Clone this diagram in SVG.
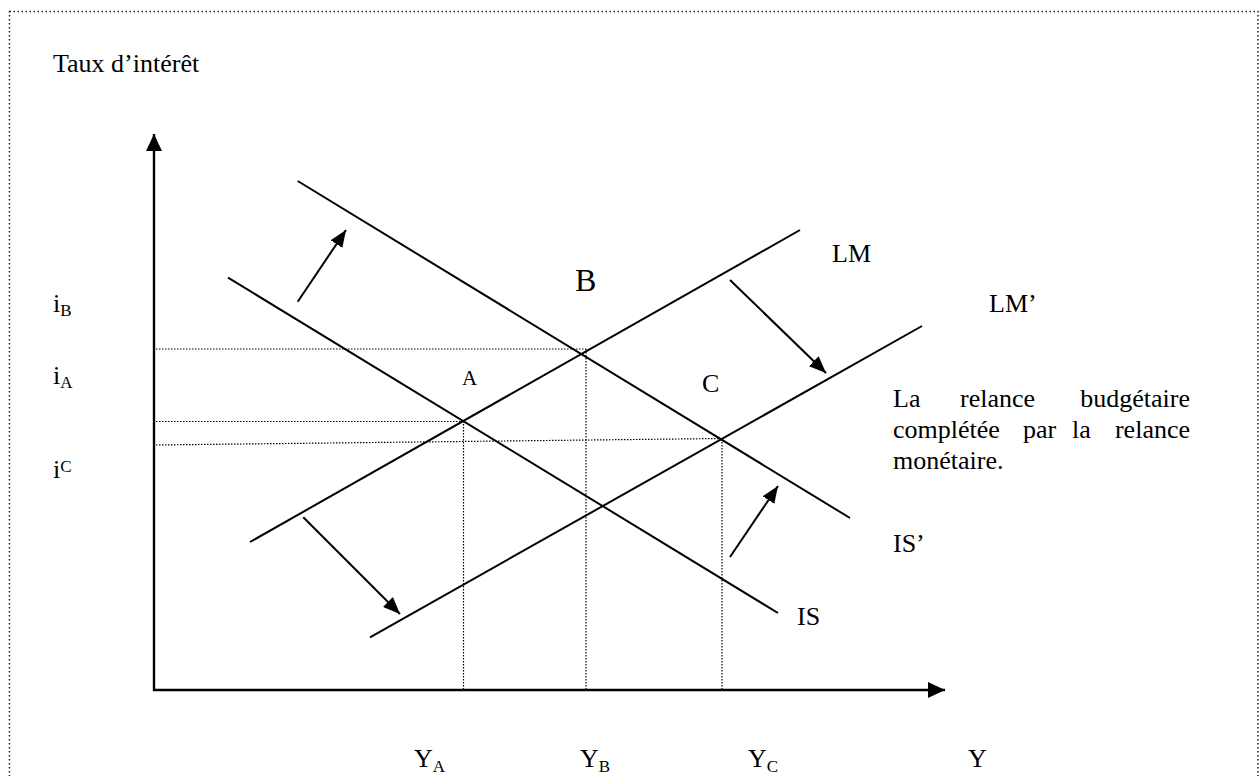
<svg xmlns="http://www.w3.org/2000/svg" width="1259" height="776" viewBox="0 0 1259 776">
<style>
text{font-family:"Liberation Serif","Times New Roman",serif;font-size:26px;fill:#000}
.sub{font-size:17px}
.curve{stroke:#000;stroke-width:2;fill:none}
.axis{stroke:#000;stroke-width:2.4;fill:none}
.dot{stroke:#000;stroke-width:1.2;stroke-dasharray:1.5 1.5;fill:none}
.shift{stroke:#000;stroke-width:2;fill:none}
</style>
<defs>
<marker id="axhead" markerUnits="userSpaceOnUse" markerWidth="18" markerHeight="16" refX="17" refY="8" orient="auto">
<path d="M0,0 L17,8 L0,16 z" fill="#000"/>
</marker>
<marker id="head" markerUnits="userSpaceOnUse" markerWidth="18" markerHeight="14" refX="17" refY="7" orient="auto">
<path d="M0,0 L17,7 L0,14 z" fill="#000"/>
</marker>
</defs>
<rect x="9.5" y="11.5" width="1248.5" height="800" fill="none" stroke="#222" stroke-width="1.5" stroke-dasharray="1.5 2.5"/>
<g id="axes">
<line class="axis" x1="154" y1="691" x2="154" y2="134" marker-end="url(#axhead)"/>
<line class="axis" x1="153" y1="690" x2="945" y2="690" marker-end="url(#axhead)"/>
<text x="53" y="72">Taux d’intérêt</text>
<text x="968" y="767">Y</text>
</g>
<g id="guides">
<line class="dot" x1="156" y1="349" x2="586" y2="349"/>
<line class="dot" x1="586" y1="349" x2="586" y2="689"/>
<line class="dot" x1="156" y1="421.5" x2="463" y2="421.5"/>
<line class="dot" x1="463.5" y1="421" x2="463.5" y2="689"/>
<line class="dot" x1="156" y1="445" x2="721" y2="438.5"/>
<line class="dot" x1="722" y1="439" x2="722" y2="689"/>
</g>
<g id="IS">
<line class="curve" x1="228" y1="277.6" x2="778" y2="613"/>
<text x="797" y="625">IS</text>
</g>
<g id="IS-prime">
<line class="curve" x1="297.7" y1="181" x2="850" y2="518"/>
<text x="893" y="552">IS’</text>
</g>
<g id="LM">
<line class="curve" x1="250" y1="542" x2="800" y2="230"/>
<text x="832" y="262">LM</text>
</g>
<g id="LM-prime">
<line class="curve" x1="370" y1="637.3" x2="922" y2="326"/>
<text x="989" y="312">LM’</text>
</g>
<g id="point-A"><text x="462" y="385" style="font-size:21px">A</text></g>
<g id="point-B"><text x="575" y="291" style="font-size:32px">B</text></g>
<g id="point-C"><text x="702" y="392">C</text></g>
<g id="rate-labels">
<text x="53" y="312">i<tspan class="sub" dy="4">B</tspan></text>
<text x="53" y="384">i<tspan class="sub" dy="4">A</tspan></text>
<text x="53" y="478">i<tspan class="sub" dy="-6">C</tspan></text>
</g>
<g id="output-labels">
<text x="414" y="767">Y<tspan class="sub" dy="5">A</tspan></text>
<text x="580" y="767">Y<tspan class="sub" dy="5">B</tspan></text>
<text x="748" y="767">Y<tspan class="sub" dy="5">C</tspan></text>
</g>
<g id="note">
<text x="893" y="407">La</text>
<text x="960" y="407">relance</text>
<text x="1190" y="407" text-anchor="end">budgétaire</text>
<text x="893" y="438">complétée</text>
<text x="1023" y="438">par</text>
<text x="1072" y="438">la</text>
<text x="1190" y="438" text-anchor="end">relance</text>
<text x="893" y="469">monétaire.</text>
</g>
<g id="connectors">
<line class="shift" x1="297.7" y1="301.7" x2="346" y2="230" marker-end="url(#head)"/>
<line class="shift" x1="730" y1="280" x2="826" y2="373" marker-end="url(#head)"/>
<line class="shift" x1="730" y1="557" x2="778" y2="486" marker-end="url(#head)"/>
<line class="shift" x1="303.3" y1="517.3" x2="400" y2="614" marker-end="url(#head)"/>
</g>
</svg>
